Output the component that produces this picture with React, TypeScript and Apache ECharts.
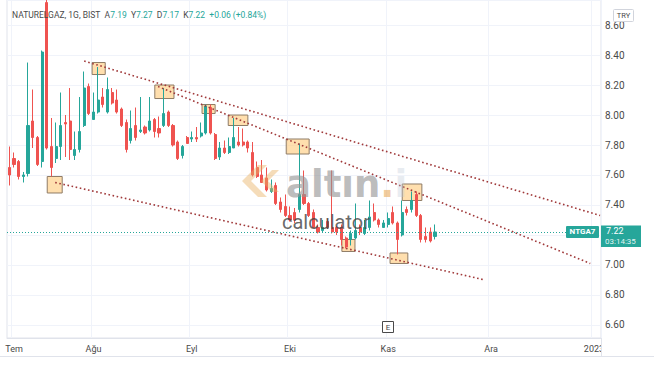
import React, { useEffect, useRef } from "react";
import * as echarts from "echarts";

// ---- data ----
const opens = [7.65, 7.71, 7.69, 7.59, 7.61, 7.96, 7.85, 7.69, 8.75, 7.79, 7.71, 7.79, 7.95, 7.96, 7.73, 7.77, 7.93, 8.19, 7.97, 8.02, 8.12, 8.02, 8.15, 8.10, 8.04, 7.95, 7.83, 7.93, 7.89, 7.92, 7.90, 7.97, 7.91, 7.93, 8.02, 7.93, 7.82, 7.73, 7.85, 7.84, 7.85, 7.86, 7.88, 8.05, 7.87, 7.72, 7.78, 7.75, 7.78, 7.82, 7.82, 7.82, 7.75, 7.65, 7.60, 7.58, 7.49, 7.53, 7.42, 7.39, 7.33, 7.35, 7.37, 7.47, 7.41, 7.35, 7.25, 7.23, 7.29, 7.25, 7.25, 7.25, 7.18, 7.17, 7.18, 7.25, 7.21, 7.25, 7.35, 7.30, 7.25, 7.27, 7.35, 7.28, 7.20, 7.37, 7.37, 7.47, 7.33, 7.19, 7.22, 7.19];
const closes = [7.60, 7.67, 7.59, 7.60, 7.93, 7.85, 7.67, 8.42, 7.78, 7.65, 7.79, 7.93, 7.94, 7.77, 7.77, 7.89, 8.18, 8.01, 8.02, 8.10, 8.07, 8.17, 8.08, 8.02, 7.93, 7.77, 7.91, 7.85, 7.90, 7.88, 7.96, 7.89, 7.88, 8.01, 7.93, 7.80, 7.71, 7.79, 7.81, 7.85, 7.84, 7.88, 8.06, 7.88, 7.71, 7.78, 7.75, 7.79, 7.85, 7.80, 7.80, 7.78, 7.60, 7.59, 7.55, 7.50, 7.51, 7.41, 7.37, 7.33, 7.30, 7.30, 7.47, 7.41, 7.33, 7.25, 7.22, 7.25, 7.25, 7.22, 7.22, 7.17, 7.12, 7.21, 7.23, 7.22, 7.25, 7.32, 7.30, 7.27, 7.28, 7.31, 7.28, 7.17, 7.35, 7.35, 7.43, 7.33, 7.17, 7.17, 7.16, 7.22];
const lows = [7.53, 7.65, 7.57, 7.55, 7.59, 7.78, 7.66, 7.65, 7.77, 7.59, 7.68, 7.70, 7.72, 7.70, 7.70, 7.75, 7.92, 8.00, 7.97, 8.01, 8.05, 8.01, 8.07, 8.01, 7.92, 7.75, 7.81, 7.83, 7.88, 7.87, 7.89, 7.85, 7.85, 7.92, 7.92, 7.79, 7.70, 7.71, 7.81, 7.82, 7.82, 7.85, 7.87, 7.87, 7.70, 7.70, 7.74, 7.74, 7.78, 7.79, 7.79, 7.75, 7.59, 7.58, 7.55, 7.49, 7.48, 7.40, 7.35, 7.32, 7.29, 7.28, 7.35, 7.40, 7.32, 7.25, 7.21, 7.22, 7.24, 7.21, 7.20, 7.13, 7.11, 7.13, 7.17, 7.20, 7.20, 7.23, 7.29, 7.25, 7.25, 7.25, 7.27, 7.07, 7.19, 7.33, 7.35, 7.32, 7.15, 7.15, 7.15, 7.17];
const highs = [7.79, 7.75, 7.70, 7.62, 8.35, 8.17, 7.86, 8.43, 8.95, 7.98, 7.95, 8.15, 8.00, 8.18, 7.89, 8.12, 8.29, 8.21, 8.15, 8.32, 8.18, 8.25, 8.18, 8.17, 8.05, 7.97, 8.03, 8.05, 8.12, 7.93, 8.12, 7.98, 7.99, 8.18, 8.03, 7.94, 7.83, 7.80, 7.86, 7.89, 7.92, 7.95, 8.07, 8.07, 7.88, 7.82, 7.83, 7.85, 7.98, 7.92, 7.91, 7.83, 7.82, 7.69, 7.70, 7.65, 7.57, 7.55, 7.45, 7.47, 7.39, 7.38, 7.81, 7.63, 7.42, 7.37, 7.27, 7.30, 7.31, 7.63, 7.26, 7.27, 7.19, 7.23, 7.41, 7.27, 7.30, 7.43, 7.41, 7.31, 7.30, 7.35, 7.39, 7.29, 7.43, 7.39, 7.49, 7.49, 7.34, 7.25, 7.25, 7.27];

const slotCount = 127; // trading-day slots shown on the time axis (incl. future)
const monthTickIdx = [1, 18, 39, 60, 81, 103, 125];
const monthNames = ["Tem", "Ağu", "Eyl", "Eki", "Kas", "Ara", "2023"];
const priceMin = 6.513;
const priceMax = 8.767;

// trend lines: [startIdx, startPrice, endIdx, endPrice]
const trendLines = [
  [16.0, 8.36, 126.3, 7.33],
  [31.8, 8.19, 124.2, 7.01],
  [9.8, 7.55, 101.7, 6.9],
];
// pivot boxes: [x1Idx, x2Idx, topPrice, bottomPrice]
const pivotBoxes = [
  [17.7, 20.5, 8.35, 8.27],
  [8.1, 11.3, 7.59, 7.48],
  [31.1, 35.2, 8.2, 8.11],
  [41.2, 44.0, 8.07, 8.01],
  [46.8, 51.0, 8.0, 7.93],
  [59.2, 64.1, 7.84, 7.74],
  [71.1, 73.9, 7.17, 7.09],
  [81.4, 85.2, 7.08, 7.01],
  [84.0, 88.2, 7.54, 7.43],
];
const earningsIdx = 81;
const symbolTitle = "NATURELGAZ, 1G, BIST";
const tickerTag = "NTGA7";
const currency = "TRY";
const countdown = "03:14:35";

const UP = "#26a69a";
const DOWN = "#ef5350";
const FONT = "Roboto";

export default function App() {
  const ref = useRef<HTMLDivElement>(null);

  useEffect(() => {
    document.body.style.margin = "0";
    const chart = echarts.init(ref.current!, null, { renderer: "svg" });
    const categories = Array.from({ length: slotCount }, (_, i) => String(i));
    const candles = opens.map((o, i) => [o, closes[i], lows[i], highs[i]]);
    const n = closes.length;
    const last = { o: opens[n - 1], h: highs[n - 1], l: lows[n - 1], c: closes[n - 1] };
    const chg = last.c - closes[n - 2];
    const pct = (chg / closes[n - 2]) * 100;
    const sign = chg >= 0 ? "+" : "-";
    const valColor = last.c >= last.o ? UP : DOWN;

    const trendSeries = trendLines.map((t) => ({
      type: "line",
      xAxisIndex: 1,
      yAxisIndex: 0,
      data: [
        [t[0], t[1]],
        [t[2], t[3]],
      ],
      showSymbol: false,
      symbol: "none",
      silent: true,
      z: 4,
      lineStyle: { color: "#a0393a", width: 1.6, type: [1.6, 2.6] },
    }));

    const option: any = {
      animation: false,
      textStyle: { fontFamily: FONT },
      grid: {
        left: 7,
        right: 53,
        top: 0,
        bottom: 28,
        show: true,
        borderColor: "#e0e3eb",
        borderWidth: 1,
      },
      xAxis: [
        {
          type: "category",
          data: categories,
          boundaryGap: true,
          axisLine: { show: true, lineStyle: { color: "#e0e3eb" } },
          axisTick: { show: false },
          axisLabel: {
            interval: (i: number) => monthTickIdx.includes(i),
            formatter: (v: string) => {
              const k = monthTickIdx.indexOf(Number(v));
              return k >= 0 ? monthNames[k] : "";
            },
            color: "#4a4a4a",
            fontSize: 9,
            margin: 6,
            fontFamily: FONT,
          },
          splitLine: {
            show: true,
            interval: (i: number) => monthTickIdx.includes(i),
            lineStyle: { color: "#f0f3fa" },
          },
        },
        { type: "value", min: -0.5, max: slotCount - 0.5, show: false },
      ],
      yAxis: [
        {
          type: "value",
          position: "right",
          min: priceMin,
          max: priceMax,
          splitNumber: 11,
          axisLine: { show: false },
          axisTick: { show: false },
          axisLabel: {
            color: "#4a4a4a",
            fontSize: 10,
            margin: 4,
            showMinLabel: false,
            showMaxLabel: false,
            // labels hidden behind the last-price tag are not drawn
            formatter: (v: number) => (Math.abs(v - last.c) < 0.08 ? "" : v.toFixed(2)),
            fontFamily: FONT,
          },
          splitLine: { lineStyle: { color: "#f0f3fa" } },
        },
      ],
      series: [
        {
          type: "candlestick",
          xAxisIndex: 0,
          yAxisIndex: 0,
          data: candles,
          barWidth: 2.6,
          z: 2,
          itemStyle: {
            color: UP,
            color0: DOWN,
            borderColor: UP,
            borderColor0: DOWN,
            borderWidth: 1,
          },
          markLine: {
            silent: true,
            symbol: ["none", "none"],
            label: { show: false },
            lineStyle: { color: UP, type: [1, 2], width: 1 },
            data: [{ yAxis: last.c }],
          },
        },
        {
          type: "line",
          xAxisIndex: 1,
          yAxisIndex: 0,
          data: [],
          z: 3,
          markArea: {
            silent: true,
            itemStyle: {
              color: "rgba(255,202,120,0.6)",
              borderColor: "#8f7c66",
              borderWidth: 1,
            },
            data: pivotBoxes.map((b) => [{ coord: [b[0], b[2]] }, { coord: [b[1], b[3]] }]),
          },
        },
        ...trendSeries,
      ],
    };
    chart.setOption(option);

    const yP = chart.convertToPixel({ yAxisIndex: 0 }, last.c) as number;
    const eX = chart.convertToPixel({ xAxisIndex: 0 }, earningsIdx) as number;
    const gridRight = 654 - 53;

    const logoColor = "rgba(232,178,100,0.45)";
    const wmFont = 'bold 37px "DejaVu Sans", sans-serif';

    const graphic: any[] = [
      // header
      {
        type: "text",
        x: 12,
        y: 15,
        z: 20,
        style: {
          text: `{n|${symbolTitle}}  {l|A}{v|${last.o.toFixed(2)}}  {l|Y}{v|${last.h.toFixed(2)}}  {l|D}{v|${last.l.toFixed(2)}}  {l|K}{v|${last.c.toFixed(2)}}  {v|${sign}${Math.abs(chg).toFixed(2)} (${sign}${Math.abs(pct).toFixed(2)}%)}`,
          verticalAlign: "middle",
          fontSize: 8.5,
          fontFamily: FONT,
          rich: {
            n: { fill: "#4a4a4a", fontSize: 8.5, fontFamily: FONT },
            l: { fill: "#4a4a4a", fontSize: 8.5, fontFamily: FONT },
            v: { fill: valColor, fontSize: 8.5, fontFamily: FONT },
          },
        },
      },
      // watermark logo chevrons
      {
        type: "polygon",
        z: 10,
        shape: { points: [[258, 165], [242, 181], [258, 197], [267, 197], [251, 181], [267, 165]] },
        style: { fill: logoColor },
      },
      {
        type: "polygon",
        z: 10,
        shape: { points: [[272, 170], [261, 181], [272, 192], [279, 192], [268, 181], [279, 170]] },
        style: { fill: logoColor },
      },
      {
        type: "text",
        z: 10,
        x: 286,
        y: 184,
        style: {
          text: "{w|altın}{o|.}{f|i}",
          verticalAlign: "middle",
          font: wmFont,
          rich: {
            w: { fill: "rgba(150,150,150,0.65)", font: wmFont, fontSize: 37, fontWeight: "bold", fontFamily: "DejaVu Sans" },
            o: { fill: "rgba(232,170,90,0.6)", font: wmFont, fontSize: 37, fontWeight: "bold", fontFamily: "DejaVu Sans" },
            f: { fill: "rgba(190,200,215,0.35)", font: wmFont, fontSize: 37, fontWeight: "bold", fontFamily: "DejaVu Sans" },
          },
        },
      },
      {
        type: "text",
        z: 10,
        x: 282,
        y: 222,
        style: {
          text: "calculator",
          fill: "rgba(65,65,65,0.8)",
          fontSize: 20,
          fontFamily: FONT,
          verticalAlign: "middle",
        },
      },
      // currency box
      {
        type: "rect",
        z: 20,
        shape: { x: 613.5, y: 9.5, width: 20, height: 12, r: 1 },
        style: { fill: "#fff", stroke: "#d1d4dc", lineWidth: 1 },
      },
      {
        type: "text",
        z: 21,
        x: 623.5,
        y: 15.5,
        style: { text: currency, fill: "#4a4a4a", fontSize: 7.5, fontFamily: FONT, align: "center", verticalAlign: "middle" },
      },
      // ticker tag
      {
        type: "rect",
        z: 20,
        shape: { x: 566, y: yP - 6, width: 33, height: 12, r: 1 },
        style: { fill: UP },
      },
      {
        type: "text",
        z: 21,
        x: 582.5,
        y: yP,
        style: { text: tickerTag, fill: "#fff", fontSize: 8, fontWeight: "bold", fontFamily: FONT, align: "center", verticalAlign: "middle" },
      },
      // price tag
      {
        type: "rect",
        z: 20,
        shape: { x: gridRight, y: yP - 6.5, width: 40, height: 21.5 },
        style: { fill: UP },
      },
      {
        type: "text",
        z: 21,
        x: gridRight + 5,
        y: yP - 1,
        style: { text: last.c.toFixed(2), fill: "#fff", fontSize: 9, fontFamily: FONT, verticalAlign: "middle" },
      },
      {
        type: "text",
        z: 21,
        x: gridRight + 4,
        y: yP + 10,
        style: { text: countdown, fill: "rgba(255,255,255,0.88)", fontSize: 8, fontFamily: FONT, verticalAlign: "middle" },
      },
      // cover for time-axis under price scale
      {
        type: "rect",
        z: 30,
        shape: { x: gridRight + 0.5, y: 339, width: 60, height: 17 },
        style: { fill: "#fff" },
      },
      {
        type: "line",
        z: 31,
        shape: { x1: gridRight + 0.5, y1: 338, x2: gridRight + 0.5, y2: 356 },
        style: { stroke: "#e0e3eb", lineWidth: 1 },
      },
      {
        type: "line",
        z: 31,
        shape: { x1: 0, y1: 356.5, x2: 654, y2: 356.5 },
        style: { stroke: "#e0e3eb", lineWidth: 1 },
      },
      // earnings marker
      {
        type: "rect",
        z: 20,
        shape: { x: Math.round(eX) - 5.5, y: 321.5, width: 11, height: 11 },
        style: { fill: "#fff", stroke: "#4a4a4a", lineWidth: 1 },
      },
      {
        type: "text",
        z: 21,
        x: Math.round(eX),
        y: 327.5,
        style: { text: "E", fill: "#4a4a4a", fontSize: 8, fontFamily: FONT, align: "center", verticalAlign: "middle" },
      },
    ];
    chart.setOption({ graphic });

    return () => chart.dispose();
  }, []);

  return <div ref={ref} style={{ width: 654, height: 366 }} />;
}
